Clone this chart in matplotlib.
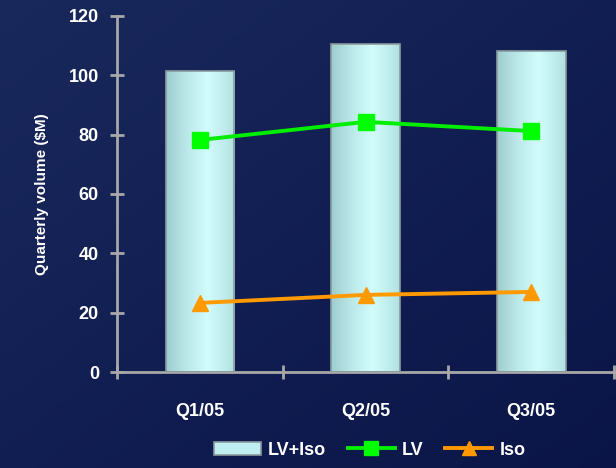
import numpy as np
import matplotlib
matplotlib.use("Agg")
import matplotlib.pyplot as plt
from matplotlib.lines import Line2D
from matplotlib.patches import Patch

quarters = ["Q1/05", "Q2/05", "Q3/05"]
total_volume = [101.5, 110.5, 108.2]   # LV+Iso
lv_volume = [78.2, 84.3, 81.2]
iso_volume = [23.3, 26.0, 27.0]
y_ticks = [0, 20, 40, 60, 80, 100, 120]

plt.rcParams["font.family"] = ["Liberation Sans", "DejaVu Sans"]
plt.rcParams["font.weight"] = "bold"

fig = plt.figure(figsize=(6.16, 4.68), dpi=100)

# dark navy backdrop
bg = fig.add_axes([0, 0, 1, 1], zorder=-10)
yy, xx = np.mgrid[0:1:200j, 0:1:260j]
shade = 0.5 * (1 - xx) + 0.5 * (1 - yy)
c0 = np.array([0.04, 0.08, 0.28])
c1 = np.array([0.10, 0.16, 0.36])
rgb = c0[None, None, :] + (c1 - c0)[None, None, :] * shade[:, :, None]
bg.imshow(rgb, aspect="auto", extent=[0, 1, 0, 1], origin="upper")
bg.axis("off")

ax = fig.add_axes([0.19, 0.205, 0.807, 0.761])
ax.patch.set_alpha(0)

x = np.arange(len(quarters))
bars = ax.bar(x, total_volume, width=0.415, color="#bfeff0",
              edgecolor="#8a9a9c", linewidth=1.2, zorder=2)

# cylinder-like horizontal shading inside each bar
grad = np.linspace(0, 1, 256)
profile = np.clip(1 - np.abs(grad - 0.6) * 1.5, 0, 1) ** 0.7
dark = np.array([0.56, 0.75, 0.76])
light = np.array([0.82, 0.99, 0.99])
cyl = dark[None, :] + (light - dark)[None, :] * profile[:, None]
cyl = cyl[None, :, :]
for b in bars:
    x0, y0 = b.get_x(), b.get_y()
    w, h = b.get_width(), b.get_height()
    im = ax.imshow(cyl, extent=[x0, x0 + w, y0, y0 + h], aspect="auto",
                   zorder=2.5, interpolation="bicubic")
    im.set_clip_path(b)
    b.set_facecolor("none")
    b.set_zorder(3)

ax.plot(x, lv_volume, color="#00ee00", linewidth=2.8, marker="s",
        markersize=11, markerfacecolor="#00ff00", markeredgecolor="#00ff00", zorder=4)
ax.plot(x, iso_volume, color="#ff9900", linewidth=2.8, marker="^",
        markersize=11, markerfacecolor="#ff9900", markeredgecolor="#ff9900", zorder=4)

ax.set_xlim(-0.5, 2.5)
ax.set_ylim(0, 120)
ax.set_yticks(y_ticks)
ax.set_xticks(x)
ax.set_xticklabels(quarters)
ax.set_xticks([-0.5, 0.5, 1.5, 2.5], minor=True)

axis_col = "#a8a8a8"
for s in ["top", "right"]:
    ax.spines[s].set_visible(False)
for s in ["left", "bottom"]:
    ax.spines[s].set_color(axis_col)
    ax.spines[s].set_linewidth(2)

ax.tick_params(axis="y", direction="inout", length=10, width=2, color=axis_col,
               labelcolor="white", labelsize=13, pad=8)
ax.tick_params(axis="x", which="major", length=0, labelcolor="white",
               labelsize=13, pad=22)
ax.tick_params(axis="x", which="minor", direction="inout", length=10, width=2,
               color=axis_col)
for t in ax.get_xticklabels() + ax.get_yticklabels():
    t.set_fontweight("bold")

ax.set_ylabel("Quarterly volume ($M)", color="white", fontsize=11,
              fontweight="bold", labelpad=14)

handles = [
    Patch(facecolor="#bfeff0", edgecolor="#8a9a9c", linewidth=1.2),
    Line2D([], [], color="#00ee00", linewidth=2.8, marker="s", markersize=10,
           markerfacecolor="#00ff00", markeredgecolor="#00ff00"),
    Line2D([], [], color="#ff9900", linewidth=2.8, marker="^", markersize=10,
           markerfacecolor="#ff9900", markeredgecolor="#ff9900"),
]
leg = fig.legend(handles, ["LV+Iso", "LV", "Iso"], loc="center",
                 bbox_to_anchor=(0.6, 0.038), ncol=3, frameon=False,
                 handlelength=2.6, handletextpad=0.4, columnspacing=1.2,
                 prop={"size": 13, "weight": "bold"})
for t in leg.get_texts():
    t.set_color("white")

fig.savefig("out.png", dpi=100)
